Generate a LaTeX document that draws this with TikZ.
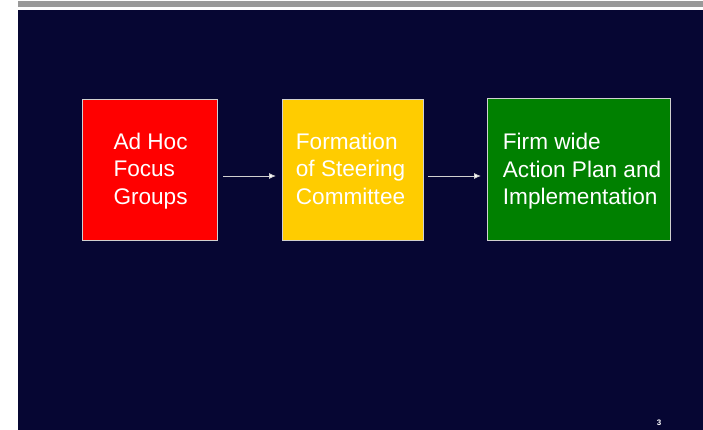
\documentclass[tikz,border=0pt]{standalone}
\usepackage{fontspec}
\setmainfont{Liberation Sans}
\usetikzlibrary{arrows.meta}
\definecolor{bgnavy}{HTML}{060633}
\definecolor{barGrey}{HTML}{999999}
\definecolor{boxRed}{HTML}{FF0000}
\definecolor{boxYellow}{HTML}{FFCC00}
\definecolor{boxGreen}{HTML}{008000}
\definecolor{edgeGrey}{HTML}{D0D0D0}
\begin{document}
\begin{tikzpicture}[x=1pt,y=-1pt,
  stagebox/.style={draw=edgeGrey,line width=0.8pt},
  stagetext/.style={anchor=base west,inner sep=0pt,align=left,text=white,
    font=\fontsize{22.6}{27.5}\selectfont},
  flow/.style={draw=edgeGrey,line width=0.9pt,-{Latex[length=7pt,width=6pt,fill=white]}}]
\useasboundingbox (0,0) rectangle (703,430);
\fill[white] (0,0) rectangle (703,430);
\fill[barGrey] (18,1) rectangle (703,7);
\fill[bgnavy] (18,10) rectangle (703,430);
\node[stagebox,fill=boxRed,minimum width=135pt,minimum height=141pt,anchor=north west,inner sep=0pt] (red) at (82.3,99.3) {};
\node[stagebox,fill=boxYellow,minimum width=141pt,minimum height=141pt,anchor=north west,inner sep=0pt] (yellow) at (281.7,99.3) {};
\node[stagebox,fill=boxGreen,minimum width=182.5pt,minimum height=141.5pt,anchor=north west,inner sep=0pt] (green) at (487.3,98.5) {};
\node[stagetext] (t1) at (113.3,204.3) {Ad Hoc\\Focus\\Groups};
\node[stagetext] (t2) at (295.7,204.3) {Formation\\of Steering\\Committee};
\node[stagetext] (t3) at (502.7,205) {Firm wide\\Action Plan and\\Implementation};
\coordinate (a1s) at (223.3,176);
\coordinate (a1e) at (276,176);
\coordinate (a2s) at (428.3,176);
\coordinate (a2e) at (481,176);
\draw[flow] (a1s) -- (a1e);
\draw[flow] (a2s) -- (a2e);
\node[text=white,font=\bfseries\fontsize{8}{9}\selectfont,inner sep=0pt] (pg) at (659,423) {3};
\end{tikzpicture}
\end{document}
